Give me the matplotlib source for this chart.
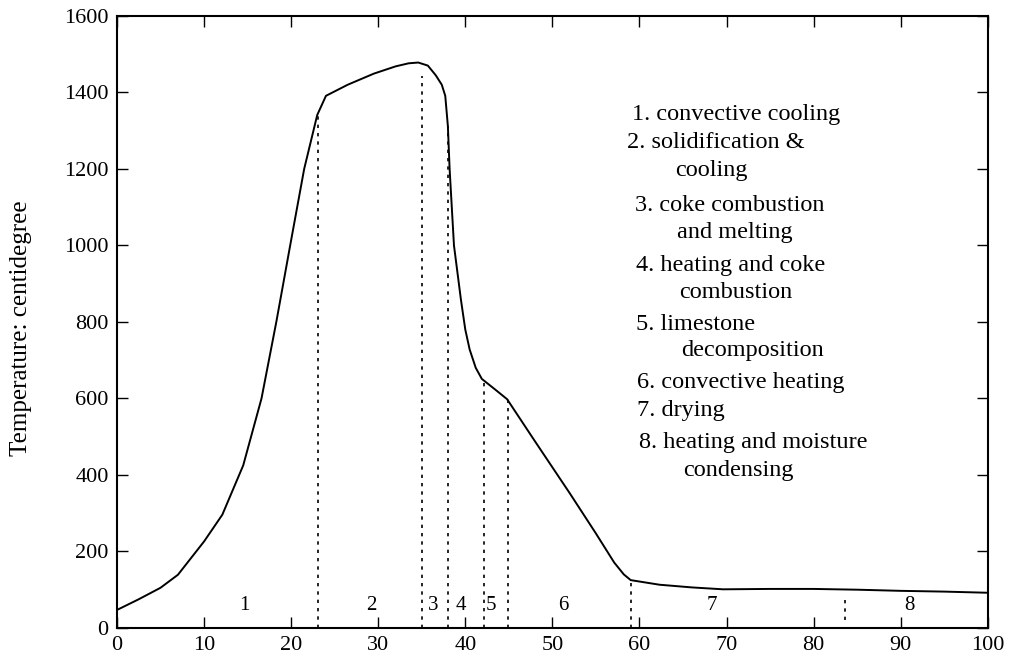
import matplotlib
matplotlib.use("Agg")
import matplotlib.pyplot as plt

# temperature profile along the bed
position = [0, 2.5, 5, 7, 10, 12.1, 14.5, 16.6, 18.3, 19.9, 21.5, 23, 24,
            26.5, 29.5, 32, 33.5, 34.6, 35.7, 36.6, 37.3, 37.7, 38, 38.2, 38.7,
            39.5, 40.0, 40.5, 41.2, 41.9, 43.5, 44.8, 48, 52, 55, 57.1, 58.2, 59,
            62.3, 66, 69.6, 75, 80, 85, 90, 95, 100]
temperature = [47, 75, 105, 139, 226, 296, 425, 600, 800, 1001, 1200, 1341, 1391,
               1420, 1449, 1468, 1476, 1478, 1470, 1445, 1420, 1391, 1312, 1200, 1000,
               858, 780, 728, 680, 651, 622, 598, 488, 352, 247, 171, 140, 125,
               113, 106, 101, 102, 102, 100, 97, 95, 92]

# zone boundaries (dotted lines) and their heights
boundary_x = [23.1, 35.0, 38.0, 42.2, 44.9, 59.0]
boundary_top = [1341, 1443, 1312, 647, 598, 125]
zone7_x = 83.6
zone7_span = [20, 75]

zone_labels = ["1", "2", "3", "4", "5", "6", "7", "8"]
zone_label_x = [14.6, 29.2, 36.3, 39.5, 42.9, 51.2, 68.3, 91.0]

legend_lines = [
    ("1. convective cooling", 59.1, 1343),
    ("2. solidification &", 58.6, 1270),
    ("cooling", 64.1, 1197),
    ("3. coke combustion", 59.5, 1105),
    ("and melting", 64.3, 1035),
    ("4. heating and coke", 59.6, 948),
    ("combustion", 64.5, 878),
    ("5. limestone", 59.6, 794),
    ("decomposition", 64.8, 726),
    ("6. convective heating", 59.7, 642),
    ("7. drying", 59.7, 569),
    ("8. heating and moisture", 60.0, 485),
    ("condensing", 65.0, 412),
]

plt.rcParams['font.family'] = ['Liberation Serif', 'DejaVu Serif']

fig = plt.figure(figsize=(10.1, 6.61), dpi=100)
ax = fig.add_axes([0.1158, 0.050, 0.8622, 0.926])

ax.plot(position, temperature, color='black', linewidth=1.4)

for bx, top in zip(boundary_x, boundary_top):
    ax.plot([bx, bx], [0, top], color='black', linewidth=1.2, linestyle=(0, (2, 3)))
ax.plot([zone7_x, zone7_x], zone7_span, color='black', linewidth=1.2, linestyle=(0, (2, 3)))

for lab, lx in zip(zone_labels, zone_label_x):
    ax.text(lx, 58, lab, ha='center', va='center', fontsize=15)

for txt, tx, ty in legend_lines:
    ax.text(tx, ty, txt, ha='left', va='center', fontsize=17.5)

ax.set_xlim(0, 100)
ax.set_ylim(0, 1600)
ax.set_xticks(range(0, 101, 10))
ax.set_yticks(range(0, 1601, 200))
ax.tick_params(direction='in', length=8, width=1, top=True, right=True, labelsize=16, pad=6)
for sp in ax.spines.values():
    sp.set_linewidth(1.5)

ax.set_ylabel('Temperature: centidegree', fontsize=18)
ax.yaxis.set_label_coords(-0.098, 0.49)

fig.savefig('out.png', dpi=100)
